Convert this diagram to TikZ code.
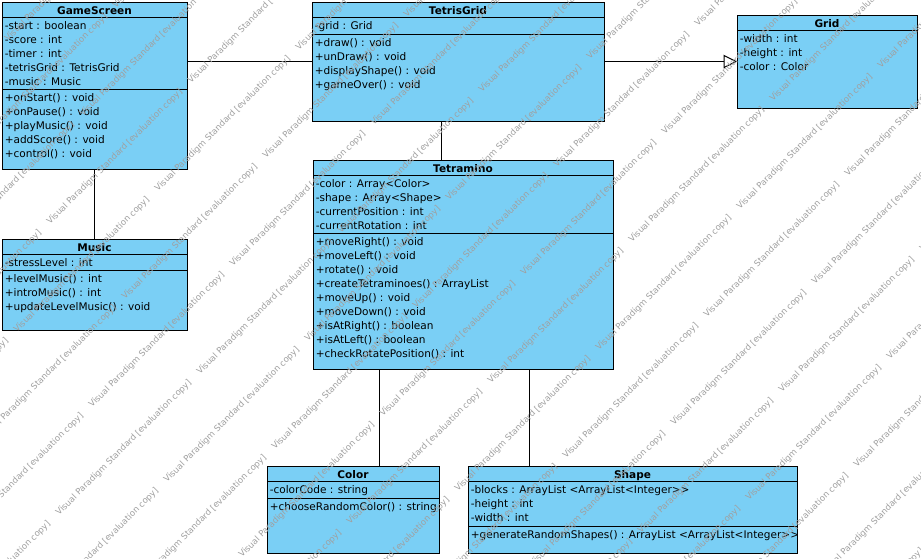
\documentclass[tikz,border=0pt]{standalone}
\usepackage{fontspec}
\setmainfont{DejaVu Sans}
\usetikzlibrary{arrows.meta}
\definecolor{classfill}{RGB}{122,207,245}
\definecolor{wmark}{RGB}{160,160,160}
\newcommand{\umlclass}[6]{%
  \node[classbox, minimum width={(#4-#2)*0.75pt}, minimum height={(#5-#3)*0.75pt}] (#1) at ({(#2+#4)/2},{(#3+#5)/2}) {};
  \node[titletext] (#1-title) at ({(#2+#4)/2},{#3+12}) {#6};
}
\newcommand{\sepline}[2]{\draw[sepl] (#1.west |- 0,#2) -- (#1.east |- 0,#2);}
\newcommand{\members}[4]{%
  \foreach \t [count=\i from 0] in {#4} {\node[member] (#1-\i) at ({#2+2.5},{#3+12.5+14*\i}) {\t};}
}
\begin{document}
\begin{tikzpicture}[x=0.75pt,y=-0.75pt,
  classbox/.style={draw=black, fill=classfill, line width=0.75pt, inner sep=0pt, outer sep=0pt},
  titletext/.style={anchor=base, inner sep=0pt, font=\bfseries\fontsize{7.9}{9}\selectfont},
  member/.style={anchor=base west, inner sep=0pt, font=\fontsize{7.9}{9}\selectfont},
  sepl/.style={line width=0.75pt},
  assoc/.style={line width=0.75pt},
  gen/.style={line width=0.75pt, -{Triangle[open, length=10pt, width=10pt]}},
  wm/.style={anchor=base west, rotate=45, inner sep=0pt, text=wmark, font=\fontsize{6.4}{7}\selectfont}
]
\useasboundingbox[fill=white] (0,0) rectangle (921,558);

% GameScreen
\umlclass{gs}{2}{2}{187}{169}{GameScreen}
\sepline{gs}{17}
\members{gsa}{2}{17}{-start : boolean,-score : int,-timer : int,-tetrisGrid : TetrisGrid,-music : Music}
\sepline{gs}{89}
\members{gsm}{2}{89}{+onStart() : void,+onPause() : void,+playMusic() : void,+addScore() : void,+control() : void}

% TetrisGrid
\umlclass{tg}{312}{2}{604}{121}{TetrisGrid}
\sepline{tg}{17}
\members{tga}{312}{17}{-grid : Grid}
\sepline{tg}{34}
\members{tgm}{312}{34}{+draw() : void,+unDraw() : void,+displayShape() : void,+gameOver() : void}

% Grid
\umlclass{grid}{737}{15}{917}{108}{Grid}
\sepline{grid}{30}
\members{gra}{737}{30}{-width : int,-height : int,-color : Color}

% Music
\umlclass{music}{2}{239}{187}{330}{Music}
\sepline{music}{254}
\members{mua}{2}{254}{-stressLevel : int}
\sepline{music}{270}
\members{mum}{2}{270}{+levelMusic() : int,+introMusic() : int,+updateLevelMusic() : void}

% Tetramino
\umlclass{tm}{313}{160}{613}{369}{Tetramino}
\sepline{tm}{175}
\members{tma}{313}{175}{-color : Array<Color>,-shape : Array<Shape>,-currentPosition : int,-currentRotation : int}
\sepline{tm}{233}
\members{tmm}{313}{233}{+moveRight() : void,+moveLeft() : void,+rotate() : void,+createTetraminoes() : ArrayList,+moveUp() : void,+moveDown() : void,+isAtRight() : boolean,+isAtLeft() : boolean,+checkRotatePosition() : int}

% Color
\umlclass{color}{267}{466}{439}{553}{Color}
\sepline{color}{481}
\members{coa}{267}{481}{-colorCode : string}
\sepline{color}{498}
\members{com}{267}{498}{+chooseRandomColor() : string}

% Shape
\umlclass{shape}{468}{466}{797}{553}{Shape}
\sepline{shape}{481}
\members{sha}{468}{481}{-blocks : ArrayList <ArrayList<Integer>{}>,-height : int,-width : int}
\sepline{shape}{526}
\members{shm}{468}{526}{+generateRandomShapes() : ArrayList <ArrayList<Integer>{}>}

% connectors
\coordinate (c1) at (441,0);
\coordinate (c2) at (379,0);
\coordinate (c3) at (529,0);
\draw[assoc] (tg.west) -- (tg.west -| gs.east);
\draw[gen] (tg.east) -- (grid.west);
\draw[assoc] (gs.south) -- (music.north);
\draw[assoc] (tg.south -| c1) -- (tm.north -| c1);
\draw[assoc] (tm.south -| c2) -- (color.north -| c2);
\draw[assoc] (tm.south -| c3) -- (shape.north -| c3);

% watermark
\begin{scope}
\clip (0,0) rectangle (921,558);
\foreach \i in {-6,...,6} {
  \foreach \j in {-14,...,14} {
    \pgfmathsetmacro\wx{632+141*\i+108*\j}
    \pgfmathsetmacro\wy{243-141*\i-33*\j}
    \pgfmathparse{(\wx>-250)&&(\wx<930)&&(\wy>-10)&&(\wy<760)?1:0}
    \ifnum\pgfmathresult=1
      \node[wm] (wm-\i-\j) at (\wx,\wy) {Visual Paradigm Standard [evaluation copy]};
    \fi
  }
}
\end{scope}
\end{tikzpicture}
\end{document}
